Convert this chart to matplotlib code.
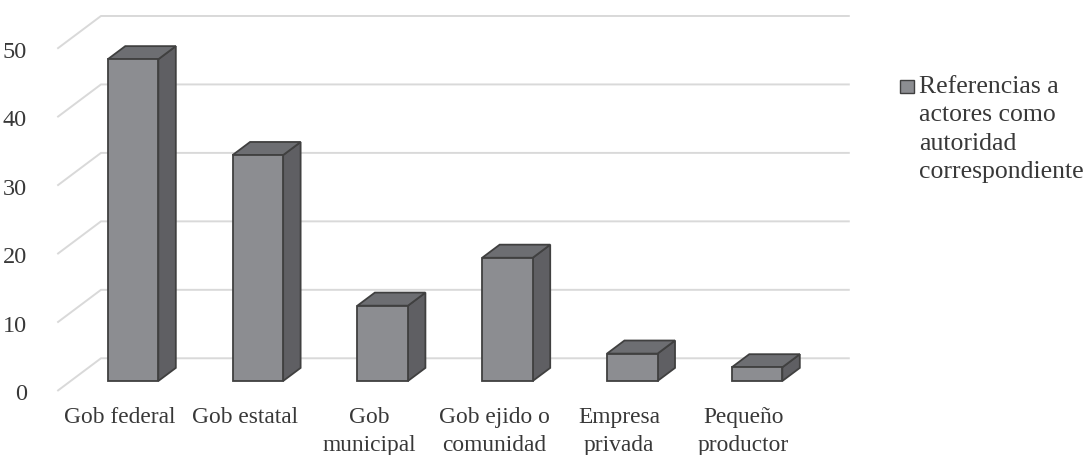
import numpy as np
import matplotlib
matplotlib.use("Agg")
import matplotlib.pyplot as plt
from matplotlib.patches import Polygon, Rectangle

# ── data ───────────────────────────────────────────────────────────────────────
categories = ["Gob federal", "Gob estatal", "Gob\nmunicipal", "Gob ejido o\ncomunidad",
              "Empresa\nprivada", "Pequeño\nproductor"]
values = [47, 33, 11, 18, 4, 2]
series_label = "Referencias a\nactores como\nautoridad\ncorrespondiente"
yticks = [0, 10, 20, 30, 40, 50]

# ── 3D look parameters (data units) ────────────────────────────────────────────
DX, DY = 0.350, 4.78        # floor depth vector
D0, D1 = 0.306, 0.706       # bar front / back depth fraction
W = 0.405                   # bar width
FRONT, SIDE, TOP = "#8c8d91", "#5f5f63", "#6d6e72"
EDGE = "#404040"
GRID = "#d9d9d9"
TXT = "#383838"

plt.rcParams["font.family"] = ["Liberation Serif", "DejaVu Serif"]

fig = plt.figure(figsize=(10.86, 4.56), dpi=100)
ax = fig.add_axes([57.3 / 1086, 64 / 456, (851 - 57.3) / 1086, (392 - 16.7) / 456])
ax.set_xlim(-0.5, -0.5 + (851 - 57.3) / 124.8)
ax.set_ylim(0, (392 - 16.7) / 6.846)


def proj(x, y, d):
    return (x + d * DX, y + d * DY)


# gridlines: front-left diagonal + back wall
x_left, x_right = -0.5, len(values) - 0.5
for v in yticks:
    pts = [proj(x_left, v, 0), proj(x_left, v, 1), proj(x_right, v, 1)]
    xs, ys = zip(*pts)
    ax.plot(xs, ys, color=GRID, lw=1.4, zorder=1, clip_on=False, solid_capstyle="butt")

# bars
for i, v in enumerate(values):
    l, r = i - W / 2, i + W / 2
    front = [proj(l, 0, D0), proj(r, 0, D0), proj(r, v, D0), proj(l, v, D0)]
    side = [proj(r, 0, D0), proj(r, 0, D1), proj(r, v, D1), proj(r, v, D0)]
    top = [proj(l, v, D0), proj(r, v, D0), proj(r, v, D1), proj(l, v, D1)]
    for poly, c in ((side, SIDE), (top, TOP), (front, FRONT)):
        ax.add_patch(Polygon(poly, closed=True, facecolor=c, edgecolor=EDGE,
                             lw=1.3, joinstyle="miter", zorder=3, clip_on=False))

ax.set_yticks(yticks)
ax.set_yticklabels([str(t) for t in yticks])
ax.set_xticks(range(len(categories)))
ax.set_xticklabels(categories, linespacing=1.4)
ax.tick_params(axis="y", length=0, pad=22, labelsize=17.5, labelcolor=TXT)
ax.tick_params(axis="x", length=0, pad=11, labelsize=16.8, labelcolor=TXT)
for s in ax.spines.values():
    s.set_visible(False)

# legend (handle sits beside the first text line)
fig.add_artist(Rectangle((900 / 1086, 1 - 94 / 456), 14 / 1086, 13 / 456,
                         transform=fig.transFigure, facecolor=FRONT, edgecolor=EDGE, lw=1.0))
fig.text(919 / 1086, 1 - 76 / 456, series_label, ha="left", va="top",
         fontsize=18.5, color=TXT, linespacing=1.38)

plt.savefig("out.png", dpi=100)
